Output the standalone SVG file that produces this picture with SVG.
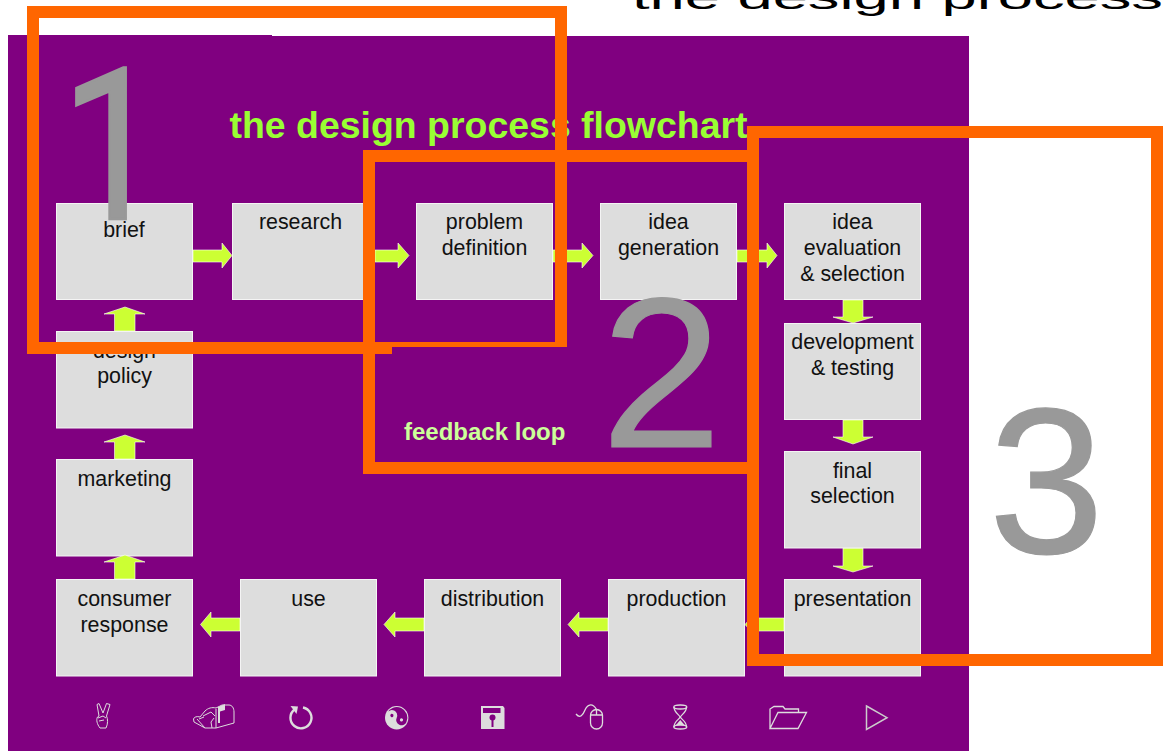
<svg xmlns="http://www.w3.org/2000/svg" width="1163" height="751" viewBox="0 0 1163 751">
<style>
text{font-family:"Liberation Sans",Arial,sans-serif}
.b{fill:#ddd;stroke:#f4f4f4;stroke-width:1}
.l{font-size:21.4px;fill:#111;text-anchor:middle}
.a{fill:#ccff33;stroke:#fff;stroke-width:.6}
.n{fill:#999;stroke:#999;stroke-width:1.2}
.o{fill:none;stroke:#f60;stroke-width:12}
.i{fill:none;stroke:#ddd;stroke-width:1.3}
.f{fill:#ddd}
.p{fill:#800080}
</style>
<rect x="8" y="36" width="961" height="715" fill="#800080"/>
<rect x="8" y="35" width="264" height="1" fill="#800080"/>
<text x="632" y="9" font-size="34" fill="#000" textLength="531" lengthAdjust="spacingAndGlyphs">the design process</text>
<text x="229.500" y="138" font-size="37.450" font-weight="bold" fill="#99ff33">the design process flowchart</text>
<text x="404" y="440" font-size="24" font-weight="bold" fill="#ccff99">feedback loop</text>
<g id="connectors">
<path class="a" d="M193 250H222V243L232 255.500L222 268V262H193Z"/>
<path class="a" d="M375 250H398V243L409 255.500L398 268V262H375Z"/>
<path class="a" d="M553 250H582V243L593 255.500L582 268V262H553Z"/>
<path class="a" d="M737 250H767V243L777 255.500L767 268V262H737Z"/>
<path class="a" d="M843 300V317H833L853 323L873 317H863V300Z"/>
<path class="a" d="M843 420V437H833L853 444L873 437H863V420Z"/>
<path class="a" d="M843 548V566H833L853 572L873 566H863V548Z"/>
<path class="a" d="M784 618H756V612L745 624.500L756 637V631H784Z"/>
<path class="a" d="M608 618H579V612L568 624.500L579 637V631H608Z"/>
<path class="a" d="M424 618H395V612L384 624.500L395 637V631H424Z"/>
<path class="a" d="M240 618H211V612L200.500 624.500L211 637V631H240Z"/>
<path class="a" d="M114.500 331V314H104L125 307L145 314H135V331Z"/>
</g>
<g id="n-brief"><rect class="b" x="56.500" y="203.500" width="136" height="96"/><text class="l" x="124" y="237">brief</text></g>
<g id="n-research"><rect class="b" x="232.500" y="203.500" width="136" height="96"/><text class="l" x="300.500" y="229">research</text></g>
<g id="n-problem"><rect class="b" x="416.500" y="203.500" width="136" height="96"/><text class="l" x="484.500" y="229">problem</text><text class="l" x="484.500" y="255">definition</text></g>
<g id="n-idea"><rect class="b" x="600.500" y="203.500" width="136" height="96"/><text class="l" x="668.500" y="229">idea</text><text class="l" x="668.500" y="255">generation</text></g>
<g id="n-eval"><rect class="b" x="784.500" y="203.500" width="136" height="96"/><text class="l" x="852.500" y="229">idea</text><text class="l" x="852.500" y="255">evaluation</text><text class="l" x="852.500" y="281">&amp; selection</text></g>
<g id="n-dev"><rect class="b" x="784.500" y="323.500" width="136" height="96"/><text class="l" x="852.500" y="349">development</text><text class="l" x="852.500" y="375">&amp; testing</text></g>
<g id="n-final"><rect class="b" x="784.500" y="451.500" width="136" height="96.500"/><text class="l" x="852.500" y="478">final</text><text class="l" x="852.500" y="503">selection</text></g>
<g id="n-pres"><rect class="b" x="784.500" y="579.500" width="136" height="96.500"/><text class="l" x="852.500" y="606">presentation</text></g>
<g id="n-prod"><rect class="b" x="608.500" y="579.500" width="136" height="96.500"/><text class="l" x="676.500" y="606">production</text></g>
<g id="n-dist"><rect class="b" x="424.500" y="579.500" width="136" height="96.500"/><text class="l" x="492.500" y="606">distribution</text></g>
<g id="n-use"><rect class="b" x="240.500" y="579.500" width="136" height="96.500"/><text class="l" x="308.500" y="606">use</text></g>
<g id="n-consumer"><rect class="b" x="56.500" y="579.500" width="136" height="96.500"/><text class="l" x="124.500" y="606">consumer</text><text class="l" x="124.500" y="632">response</text></g>
<g id="n-marketing"><rect class="b" x="56.500" y="459.500" width="136" height="96.500"/><text class="l" x="124.500" y="486">marketing</text></g>
<g id="n-policy"><rect class="b" x="56.500" y="331.500" width="136" height="96.500"/><text class="l" x="124.500" y="358">design</text><text class="l" x="124.500" y="383">policy</text></g>
<g id="connectors-2">
<path class="a" d="M114.500 459V442H104L125 435L145 442H135V459Z"/>
<path class="a" d="M114.500 579V562H104L125 555L145 562H135V579Z"/>
</g>
<g id="icons">
<g id="icon-hand" class="i" style="stroke-width:1"><path d="M99 716L97 704.500L99 703.500L103 713L106.500 703.500L110 704.500L106.500 716C108 719 108 724 106 728H100C97 724 96 720 97.500 717Z"/><path d="M98 718L103 716L106 718M99 721L104 720"/></g>
<g id="icon-mail" class="i" style="stroke-width:1"><path d="M193.500 719C194 717 197 716 200 717L205 711C208 708 212 707 216 708L222 705H229C232 705 234 708 234 712V723L216 728H205L194 722Z"/><path d="M205 728L197 719M216 728V709M203 716L211 712L215 716M199 719L204 717M214 718L211 722L212 728"/><path class="f" style="stroke:none" d="M218 723V707L225 704V710L220 711.500V723Z"/></g>
<g id="icon-redo"><path class="i" style="stroke-width:2.400" d="M294.500 709.500A10.500 10.500 0 1 0 303 707.500"/><path class="f" d="M290.500 706L298 706.500L296.500 714Z"/></g>
<g id="icon-yinyang"><circle class="f" cx="396.700" cy="717.700" r="11.700"/><g transform="rotate(-65 396.700 717.700)"><path class="p" d="M396.700 707A10.700 10.700 0 0 1 396.700 728.400A5.350 5.350 0 0 1 396.700 717.700A5.350 5.350 0 0 0 396.700 707Z"/><circle class="p" cx="396.700" cy="712.400" r="1.600"/><circle class="f" cx="396.700" cy="723" r="1.600"/></g></g>
<g id="icon-floppy"><path class="f" d="M481 706H503L504.500 708V729H481Z"/><rect class="p" x="483" y="708" width="17.500" height="5"/><circle class="p" cx="492.500" cy="717.500" r="3"/><rect class="p" x="491.500" y="720" width="2" height="7"/></g>
<g id="icon-mouse" class="i"><rect x="590.500" y="709.500" width="12" height="19.500" rx="6"/><path d="M590.500 715H602.500M596.500 709.500V715M576 714C580 719 583 715 585 710C587 705 592 702 596.500 709.500"/></g>
<g id="icon-hourglass" class="i"><ellipse cx="680.300" cy="707" rx="6.500" ry="2"/><ellipse cx="680.300" cy="727" rx="6.500" ry="2"/><path d="M674 707C674 713 680 715 680 717C680 719 674 721 674 727M686.500 707C686.500 713 680.500 715 680.500 717C680.500 719 686.500 721 686.500 727"/><path class="f" style="stroke:none" d="M676 725L680.300 720L684.500 725Z"/></g>
<g id="icon-folder" class="i"><path d="M770 728.500V709L774 706.500H783L785 709H798.500V712M770 728.500H798L806.500 712.500H778Z"/></g>
<g id="icon-play" class="i" style="stroke:#ccc;stroke-width:1.500"><path d="M866.500 706L887 717.700L866.500 729.500Z"/></g>
</g>
<text class="n" style="font-family:Roboto,sans-serif;font-size:212px;stroke-width:2.500" transform="translate(61,219) scale(.86,1)">1</text>
<text class="n" font-size="213" transform="translate(601,447) scale(1.02,1)">2</text>
<text class="n" font-size="208" x="988.500" y="553.400">3</text>
<g id="frames">
<path class="o" d="M33 354V12H561V347"/>
<path d="M27 342H392V354H27ZM392 342H567V347H392Z" fill="#f60"/>
<rect x="369" y="156" width="384" height="312" class="o"/>
<rect x="753" y="132" width="404" height="528" class="o"/>
</g>
</svg>
